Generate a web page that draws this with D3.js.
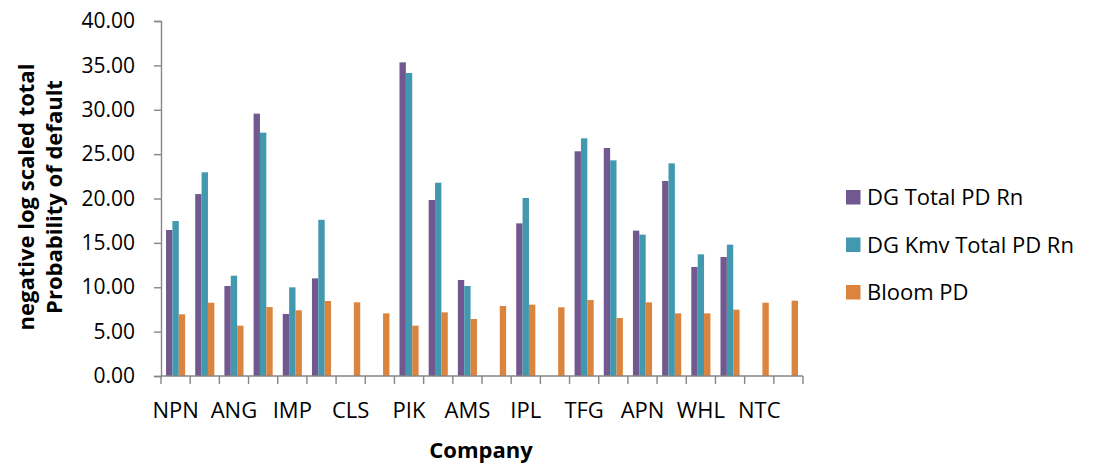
<!DOCTYPE html>
<html>
<head>
<meta charset="utf-8">
<script src="https://cdn.jsdelivr.net/npm/d3@7"></script>
<style>
  body { margin: 0; background: #fff; }
  svg { display: block; }
</style>
</head>
<body>
<div id="chart"></div>
<script>
// categories: only every other label is shown on the axis (as in the original)
const categories = ["NPN", "", "ANG", "", "IMP", "", "CLS", "", "PIK", "", "AMS",
                    "", "IPL", "", "TFG", "", "APN", "", "WHL", "", "NTC", ""];
const seriesNames = ["DG Total PD Rn", "DG Kmv Total PD Rn", "Bloom PD"];
const dgTotal = [16.45, 20.5, 10.14, 29.56, 6.99, 11.0, null, null, 35.34, 19.83, 10.82,
                 null, 17.2, null, 25.32, 25.69, 16.38, 21.97, 12.28, 13.41, null, null];
const dgKmv = [17.46, 22.95, 11.3, 27.42, 9.99, 17.6, null, null, 34.14, 21.78, 10.14,
               null, 20.06, null, 26.78, 24.3, 15.93, 23.96, 13.71, 14.8, null, null];
const bloom = [6.95, 8.26, 5.67, 7.77, 7.4, 8.45, 8.3, 7.06, 5.67, 7.17, 6.42,
               7.89, 8.04, 7.74, 8.56, 6.54, 8.3, 7.06, 7.06, 7.47, 8.26, 8.49];
const yTicks = [0, 5, 10, 15, 20, 25, 30, 35, 40];
const colors = ["#71588f", "#4198af", "#db843d"];

const width = 1094, height = 468;
const margin = {top: 21, left: 161, right: 295, bottom: 92};
const font = "Open Sans, sans-serif";
const axisColor = "#868686";

const values = [dgTotal, dgKmv, bloom];
const rows = categories.map((c, i) => ({i, label: c, vals: values.map(v => v[i])}));

const x0 = d3.scaleBand()
  .domain(d3.range(categories.length))
  .range([margin.left, width - margin.right + 4])
  .paddingInner(0).paddingOuter(0);
const x1 = d3.scaleBand()
  .domain(d3.range(seriesNames.length))
  .range([0, x0.bandwidth()])
  .paddingInner(0).paddingOuter(0.79);
const y = d3.scaleLinear([0, 40], [height - margin.bottom, margin.top]);

const svg = d3.select("#chart").append("svg")
  .attr("width", width)
  .attr("height", height)
  .attr("font-family", font);

// bars
svg.append("g")
  .selectAll("g")
  .data(rows)
  .join("g")
  .attr("transform", d => `translate(${x0(d.i)},0)`)
  .selectAll("rect")
  .data(d => d.vals.map((v, k) => ({k, v})).filter(e => e.v != null))
  .join("rect")
  .attr("x", e => x1(e.k))
  .attr("width", x1.bandwidth())
  .attr("y", e => y(e.v))
  .attr("height", e => y(0) - y(e.v))
  .attr("fill", e => colors[e.k]);

// y axis
const yAxis = svg.append("g")
  .attr("transform", `translate(${margin.left},0)`)
  .call(d3.axisLeft(y).tickValues(yTicks).tickFormat(d3.format(".2f")).tickSize(7).tickPadding(19));
yAxis.selectAll("line, path").attr("stroke", axisColor).attr("stroke-width", 1.4);
yAxis.selectAll("text")
  .attr("font-family", font)
  .attr("font-size", 21)
  .attr("fill", "#000");

// x axis: ticks on band boundaries
const xAxis = svg.append("g")
  .attr("transform", `translate(0,${y(0)})`);
xAxis.append("line")
  .attr("x1", margin.left).attr("x2", x0.range()[1])
  .attr("stroke", axisColor).attr("stroke-width", 1.4);
xAxis.selectAll(".tick")
  .data(d3.range(categories.length + 1))
  .join("line")
  .attr("x1", i => margin.left + i * x0.step())
  .attr("x2", i => margin.left + i * x0.step())
  .attr("y1", 0).attr("y2", 8)
  .attr("stroke", axisColor).attr("stroke-width", 1.4);
xAxis.selectAll("text")
  .data(rows.filter(d => d.label))
  .join("text")
  .attr("x", d => x0(d.i) + x0.bandwidth() / 2)
  .attr("y", 42)
  .attr("text-anchor", "middle")
  .attr("font-size", 22)
  .text(d => d.label);

// axis titles
svg.append("text")
  .attr("x", 481)
  .attr("y", 458)
  .attr("text-anchor", "middle")
  .attr("font-size", 22)
  .attr("font-weight", "bold")
  .text("Company");

svg.append("text")
  .attr("transform", "translate(34,197) rotate(-90)")
  .attr("text-anchor", "middle")
  .attr("font-size", 22)
  .attr("font-weight", "bold")
  .text("negative log scaled total");
svg.append("text")
  .attr("transform", "translate(62,197) rotate(-90)")
  .attr("text-anchor", "middle")
  .attr("font-size", 22)
  .attr("font-weight", "bold")
  .text("Probability of default");

// legend
const legend = svg.append("g")
  .selectAll("g")
  .data(seriesNames)
  .join("g")
  .attr("transform", (d, i) => `translate(846,${190 + i * 47.5})`);
legend.append("rect")
  .attr("width", 14.5).attr("height", 14.5)
  .attr("fill", (d, i) => colors[i]);
legend.append("text")
  .attr("x", 21)
  .attr("y", 15)
  .attr("font-size", 22)
  .text(d => d);
</script>
</body>
</html>
